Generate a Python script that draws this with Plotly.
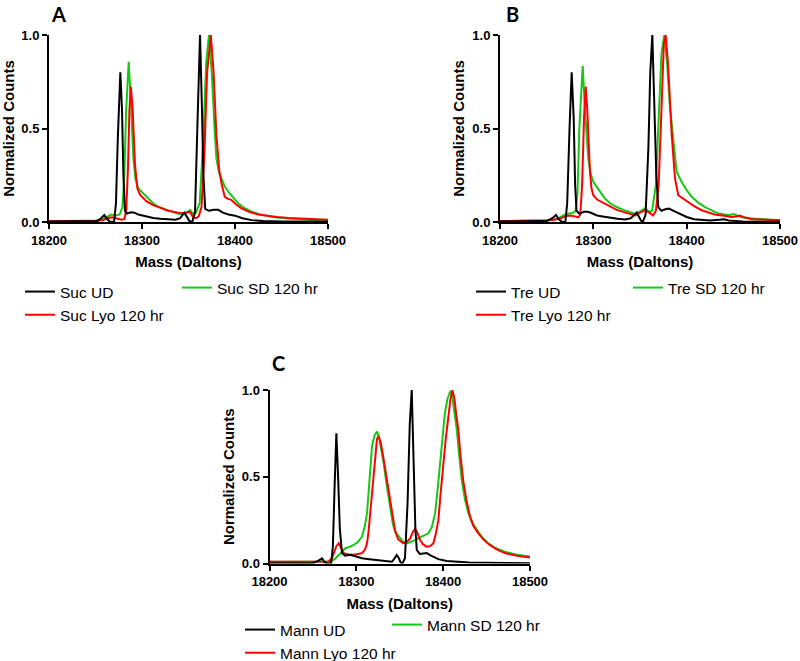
import plotly.graph_objects as go

# ---------------- data ----------------
# Panel A (Sucrose)
a_ud_mass = [18200, 18220, 18240, 18252, 18256, 18259.5, 18262, 18265, 18270, 18272, 18274, 18276.7, 18278.5, 18280, 18281.7, 18284, 18288, 18292, 18296, 18300, 18306, 18312, 18320, 18328, 18336, 18341, 18345.5, 18348, 18351, 18354, 18357, 18359.5, 18362.4, 18364.5, 18366, 18368, 18372, 18377, 18382, 18387, 18393, 18400, 18408, 18418, 18430, 18450, 18475, 18500]
a_ud_counts = [0.003, 0.003, 0.004, 0.005, 0.02, 0.037, 0.02, 0.003, 0.0, 0.1, 0.45, 0.80, 0.6, 0.25, 0.06, 0.045, 0.052, 0.05, 0.04, 0.035, 0.028, 0.022, 0.018, 0.013, 0.012, 0.02, 0.05, 0.03, 0.005, 0.0, 0.05, 0.5, 1.0, 0.6, 0.25, 0.07, 0.06, 0.065, 0.065, 0.05, 0.04, 0.034, 0.02, 0.01, 0.005, 0.003, 0.002, 0.002]
a_lyo_mass = [18200, 18230, 18250, 18258, 18263, 18268, 18273, 18278, 18281, 18283, 18285, 18286.5, 18288, 18290, 18292.5, 18295, 18298, 18305, 18312, 18319, 18328, 18339, 18346, 18351.6, 18355, 18358, 18361, 18364, 18367, 18370, 18374, 18377, 18380, 18383, 18385.7, 18389, 18392, 18396, 18401, 18407, 18415, 18425, 18435, 18445, 18458, 18472, 18485, 18500]
a_lyo_counts = [0.004, 0.004, 0.006, 0.01, 0.02, 0.025, 0.02, 0.012, 0.015, 0.06, 0.3, 0.6, 0.724, 0.6, 0.305, 0.18, 0.145, 0.11, 0.09, 0.075, 0.06, 0.05, 0.048, 0.055, 0.025, 0.02, 0.03, 0.08, 0.35, 0.8, 1.0, 0.8, 0.465, 0.28, 0.2, 0.135, 0.125, 0.118, 0.095, 0.073, 0.055, 0.04, 0.032, 0.027, 0.022, 0.018, 0.014, 0.012]
a_sd_mass = [18200, 18230, 18250, 18258, 18263, 18267, 18272, 18276, 18279, 18281, 18283, 18285.7, 18288, 18290.7, 18293, 18296, 18299, 18303, 18308, 18313, 18317.5, 18324, 18332, 18338, 18343, 18348, 18351.6, 18355, 18358, 18362, 18366, 18369, 18372, 18375, 18378, 18380, 18383, 18385.7, 18389, 18392.8, 18398, 18403.5, 18410, 18418, 18426, 18436, 18445, 18454, 18463, 18472, 18485, 18500]
a_sd_counts = [0.004, 0.005, 0.008, 0.015, 0.03, 0.04, 0.035, 0.04, 0.08, 0.25, 0.6, 0.857, 0.65, 0.34, 0.23, 0.18, 0.165, 0.145, 0.115, 0.095, 0.082, 0.07, 0.055, 0.045, 0.04, 0.05, 0.064, 0.045, 0.05, 0.1, 0.45, 0.85, 1.0, 0.8, 0.5, 0.34, 0.26, 0.225, 0.19, 0.162, 0.13, 0.1, 0.075, 0.055, 0.042, 0.03, 0.024, 0.02, 0.015, 0.012, 0.009, 0.008]

# Panel B (Trehalose)
b_ud_mass = [18200, 18230, 18250, 18256, 18260, 18263, 18266, 18270, 18272, 18274.5, 18276.8, 18279, 18280.5, 18282, 18285, 18290, 18294, 18298, 18304, 18310, 18318, 18326, 18334, 18340, 18346.5, 18349, 18351, 18353, 18356, 18359, 18361, 18363.2, 18365.5, 18367.5, 18369.6, 18373, 18377, 18381, 18386, 18392, 18400, 18408, 18416, 18425, 18435, 18440, 18445, 18460, 18480, 18500]
b_ud_counts = [0.003, 0.003, 0.005, 0.02, 0.037, 0.015, 0.002, 0.0, 0.1, 0.5, 0.80, 0.55, 0.2, 0.06, 0.045, 0.055, 0.055, 0.048, 0.035, 0.03, 0.022, 0.017, 0.014, 0.02, 0.05, 0.03, 0.008, 0.0, 0.04, 0.4, 0.8, 1.0, 0.6, 0.25, 0.08, 0.06, 0.068, 0.072, 0.06, 0.045, 0.027, 0.015, 0.01, 0.008, 0.012, 0.015, 0.008, 0.003, 0.002, 0.002]
b_lyo_mass = [18200, 18230, 18250, 18258, 18265, 18270, 18275, 18280, 18284, 18286, 18288, 18290, 18291.8, 18293.5, 18296.4, 18298, 18300, 18304, 18308.9, 18317.8, 18325, 18332, 18340, 18345, 18350, 18355.3, 18360, 18364, 18367, 18370, 18373, 18375.5, 18377.5, 18380, 18384, 18387.5, 18391, 18396, 18401.8, 18408, 18416, 18423, 18430, 18440, 18448, 18453, 18457, 18462, 18470, 18485, 18500]
b_lyo_counts = [0.004, 0.004, 0.008, 0.012, 0.02, 0.03, 0.035, 0.03, 0.025, 0.04, 0.2, 0.55, 0.724, 0.6, 0.27, 0.18, 0.143, 0.12, 0.107, 0.08, 0.065, 0.054, 0.04, 0.035, 0.05, 0.063, 0.05, 0.035, 0.06, 0.2, 0.6, 0.95, 1.0, 0.85, 0.465, 0.232, 0.143, 0.125, 0.107, 0.085, 0.063, 0.05, 0.04, 0.033, 0.027, 0.03, 0.034, 0.025, 0.015, 0.012, 0.01]
b_sd_mass = [18200, 18230, 18250, 18258, 18262, 18266, 18270, 18274, 18278, 18281, 18283, 18285, 18288.6, 18291, 18294.6, 18297, 18300, 18303.6, 18308, 18312.5, 18318, 18325, 18332, 18339, 18344.6, 18350, 18355.3, 18360, 18363, 18367, 18370, 18373, 18376, 18379, 18382, 18384, 18386.5, 18389.3, 18394.7, 18400, 18405.4, 18412, 18419.6, 18427, 18434, 18441, 18446, 18450, 18455, 18462.5, 18475, 18487, 18500]
b_sd_counts = [0.004, 0.006, 0.01, 0.015, 0.018, 0.03, 0.04, 0.045, 0.048, 0.06, 0.15, 0.5, 0.835, 0.6, 0.34, 0.26, 0.215, 0.188, 0.155, 0.125, 0.1, 0.08, 0.065, 0.054, 0.045, 0.055, 0.073, 0.054, 0.06, 0.2, 0.55, 0.9, 1.0, 0.85, 0.62, 0.518, 0.38, 0.267, 0.214, 0.17, 0.134, 0.105, 0.08, 0.06, 0.045, 0.04, 0.038, 0.042, 0.032, 0.022, 0.016, 0.013, 0.01]

# Panel C (Mannitol)
c_ud_mass = [18200, 18230, 18250, 18256, 18260.5, 18263, 18266, 18271, 18273, 18275, 18277, 18279, 18281, 18283.5, 18287, 18293, 18300, 18306.6, 18315, 18325.8, 18334, 18341, 18344, 18346.5, 18349, 18351, 18353, 18356, 18359, 18361.5, 18363.8, 18366, 18368, 18369.6, 18373, 18377, 18381, 18386, 18394.5, 18404, 18414, 18430, 18450, 18475, 18500]
c_ud_counts = [0.002, 0.002, 0.003, 0.015, 0.03, 0.01, 0.0, 0.0, 0.1, 0.45, 0.75, 0.5, 0.2, 0.06, 0.045, 0.05, 0.04, 0.03, 0.025, 0.02, 0.015, 0.01, 0.03, 0.049, 0.03, 0.005, 0.0, 0.03, 0.35, 0.8, 1.0, 0.6, 0.2, 0.078, 0.055, 0.058, 0.06, 0.045, 0.025, 0.015, 0.01, 0.006, 0.004, 0.003, 0.002]
c_lyo_mass = [18200, 18230, 18255, 18268, 18272, 18274, 18277, 18279.7, 18282.5, 18285.5, 18291, 18297, 18302, 18306.6, 18310, 18312.3, 18314, 18316, 18318, 18320, 18322, 18323.8, 18325.8, 18328, 18330.5, 18333.4, 18337, 18341, 18344.6, 18348, 18354, 18358, 18362, 18365, 18367.6, 18370, 18373.4, 18377, 18381, 18385, 18388.7, 18391.5, 18394.5, 18397, 18400, 18403, 18406, 18408.5, 18410.6, 18413, 18415, 18417.5, 18420, 18423, 18427, 18431, 18435, 18440.5, 18447, 18453.6, 18462, 18471, 18485, 18500]
c_lyo_counts = [0.01, 0.012, 0.01, 0.012, 0.03, 0.06, 0.1, 0.116, 0.09, 0.06, 0.052, 0.05, 0.055, 0.06, 0.08, 0.116, 0.18, 0.29, 0.42, 0.54, 0.65, 0.72, 0.73, 0.7, 0.63, 0.54, 0.41, 0.29, 0.19, 0.14, 0.116, 0.125, 0.145, 0.18, 0.2, 0.18, 0.135, 0.11, 0.097, 0.1, 0.116, 0.17, 0.25, 0.4, 0.577, 0.72, 0.846, 0.95, 1.0, 0.95, 0.86, 0.77, 0.62, 0.48, 0.36, 0.27, 0.215, 0.174, 0.135, 0.107, 0.08, 0.06, 0.045, 0.035]
c_sd_mass = [18200, 18230, 18255, 18270, 18275, 18279.7, 18283, 18287.4, 18292, 18297, 18302, 18306.6, 18310, 18312.3, 18314, 18316, 18318, 18321, 18323.8, 18326, 18328.5, 18331.5, 18335, 18339, 18342, 18344.6, 18350.3, 18354, 18358, 18363, 18367.6, 18371, 18375.3, 18379, 18383, 18387, 18390.7, 18393.5, 18396.4, 18399, 18402, 18405, 18408, 18410, 18413, 18415.7, 18418.5, 18421.4, 18425, 18429, 18433.5, 18438.7, 18445, 18452, 18460, 18471, 18485, 18500]
c_sd_counts = [0.01, 0.01, 0.01, 0.012, 0.025, 0.049, 0.07, 0.088, 0.095, 0.107, 0.125, 0.155, 0.22, 0.29, 0.4, 0.54, 0.673, 0.74, 0.76, 0.73, 0.67, 0.577, 0.45, 0.327, 0.23, 0.183, 0.145, 0.125, 0.116, 0.125, 0.135, 0.145, 0.155, 0.16, 0.174, 0.21, 0.29, 0.42, 0.577, 0.72, 0.866, 0.95, 0.99, 0.98, 0.88, 0.77, 0.62, 0.48, 0.37, 0.29, 0.235, 0.193, 0.15, 0.116, 0.09, 0.068, 0.05, 0.04]

x_tick_vals = [18200, 18300, 18400, 18500]
x_tick_text = ["18200", "18300", "18400", "18500"]
y_tick_vals = [0, 0.5, 1.0]
y_tick_text = ["0.0", "0.5", "1.0"]

panels = [
    ("A", "Suc", (a_ud_mass, a_ud_counts), (a_lyo_mass, a_lyo_counts), (a_sd_mass, a_sd_counts)),
    ("B", "Tre", (b_ud_mass, b_ud_counts), (b_lyo_mass, b_lyo_counts), (b_sd_mass, b_sd_counts)),
    ("C", "Mann", (c_ud_mass, c_ud_counts), (c_lyo_mass, c_lyo_counts), (c_sd_mass, c_sd_counts)),
]

# ---------------- layout geometry (pixels) ----------------
W, H = 800, 661
# plot rectangles: x0, x1, y_top, y_bottom
rects = {"A": (49, 328, 35, 222), "B": (500, 780, 35, 222), "C": (269.5, 530, 390, 563.5)}
# letter: (center x, top y, anchor)
letter_pos = {"A": (58.5, 0, "top"), "B": (512, 0, "top"), "C": (278, 362.5, "middle")}
# legend anchors: (left col x, top y, right col x, top y)
legend_pos = {"A": (20, 275, 177, 271), "B": (471, 275, 628, 271), "C": (240, 613, 387, 608)}

FONT = "Arial, Liberation Sans, sans-serif"
GREEN = "#14c814"
RED = "#ff0000"
BLACK = "#000000"

fig = go.Figure()
layout = dict(
    width=W, height=H, margin=dict(l=0, r=0, t=0, b=0, autoexpand=False),
    paper_bgcolor="white", plot_bgcolor="white",
    font=dict(family=FONT, color="black"),
    annotations=[],
)

for i, (letter, name, ud, lyo, sd) in enumerate(panels):
    n = i + 1
    xa = "x" if n == 1 else f"x{n}"
    ya = "y" if n == 1 else f"y{n}"
    leg1 = "legend" if n == 1 else f"legend{2 * n - 1}"
    leg2 = f"legend{2 * n}"
    # draw order: SD (green), Lyo (red), UD (black) on top
    fig.add_trace(go.Scatter(x=sd[0], y=sd[1], mode="lines", name=f"{name} SD 120 hr",
                             line=dict(color=GREEN, width=2), xaxis=xa, yaxis=ya,
                             legend=leg2, legendgroup=f"{letter}sd"))
    fig.add_trace(go.Scatter(x=lyo[0], y=lyo[1], mode="lines", name=f"{name} Lyo 120 hr",
                             line=dict(color=RED, width=2), xaxis=xa, yaxis=ya,
                             legend=leg1, legendrank=2, legendgroup=f"{letter}lyo"))
    fig.add_trace(go.Scatter(x=ud[0], y=ud[1], mode="lines", name=f"{name} UD",
                             line=dict(color=BLACK, width=2), xaxis=xa, yaxis=ya,
                             legend=leg1, legendrank=1, legendgroup=f"{letter}ud"))

    x0, x1, yt, yb = rects[letter]
    axis_common = dict(showline=True, linewidth=2, linecolor="black", showgrid=False,
                       zeroline=False, ticks="outside", ticklen=5, tickwidth=2,
                       tickcolor="black", automargin=False,
                       tickfont=dict(family=FONT, size=13, color="black", weight="bold"))
    xkey = "xaxis" if n == 1 else f"xaxis{n}"
    ykey = "yaxis" if n == 1 else f"yaxis{n}"
    layout[xkey] = dict(axis_common, domain=[x0 / W, x1 / W], anchor=ya,
                        range=[18200, 18500], tickvals=x_tick_vals, ticktext=x_tick_text,
                        title=dict(text="Mass (Daltons)", standoff=10,
                                   font=dict(family=FONT, size=15, color="black", weight="bold")))
    layout[ykey] = dict(axis_common, domain=[1 - yb / H, 1 - yt / H], anchor=xa,
                        range=[0, 1.0], tickvals=y_tick_vals, ticktext=y_tick_text,
                        title=dict(text="Normalized Counts", standoff=4,
                                   font=dict(family=FONT, size=15, color="black", weight="bold")))
    lx, ly, lanchor = letter_pos[letter]
    layout["annotations"].append(dict(text=letter, x=lx / W, y=1 - ly / H, xref="paper", yref="paper",
                                      xanchor="center", yanchor=lanchor, showarrow=False,
                                      font=dict(family="Lato, Arial, sans-serif", size=20,
                                                color="black", weight="bold")))
    l1x, l1y, l2x, l2y = legend_pos[letter]
    leg_common = dict(bgcolor="rgba(0,0,0,0)", borderwidth=0, orientation="v",
                      traceorder="normal", tracegroupgap=2, xanchor="left", yanchor="top",
                      font=dict(family=FONT, size=15.5, color="black"))
    layout[leg1] = dict(leg_common, x=l1x / W, y=1 - l1y / H)
    layout[leg2] = dict(leg_common, x=l2x / W, y=1 - l2y / H)

fig.update_layout(**layout)
fig.write_html("out.html", config={"displayModeBar": False},
               post_script="document.body.style.margin='0';document.body.style.overflow='hidden';")
